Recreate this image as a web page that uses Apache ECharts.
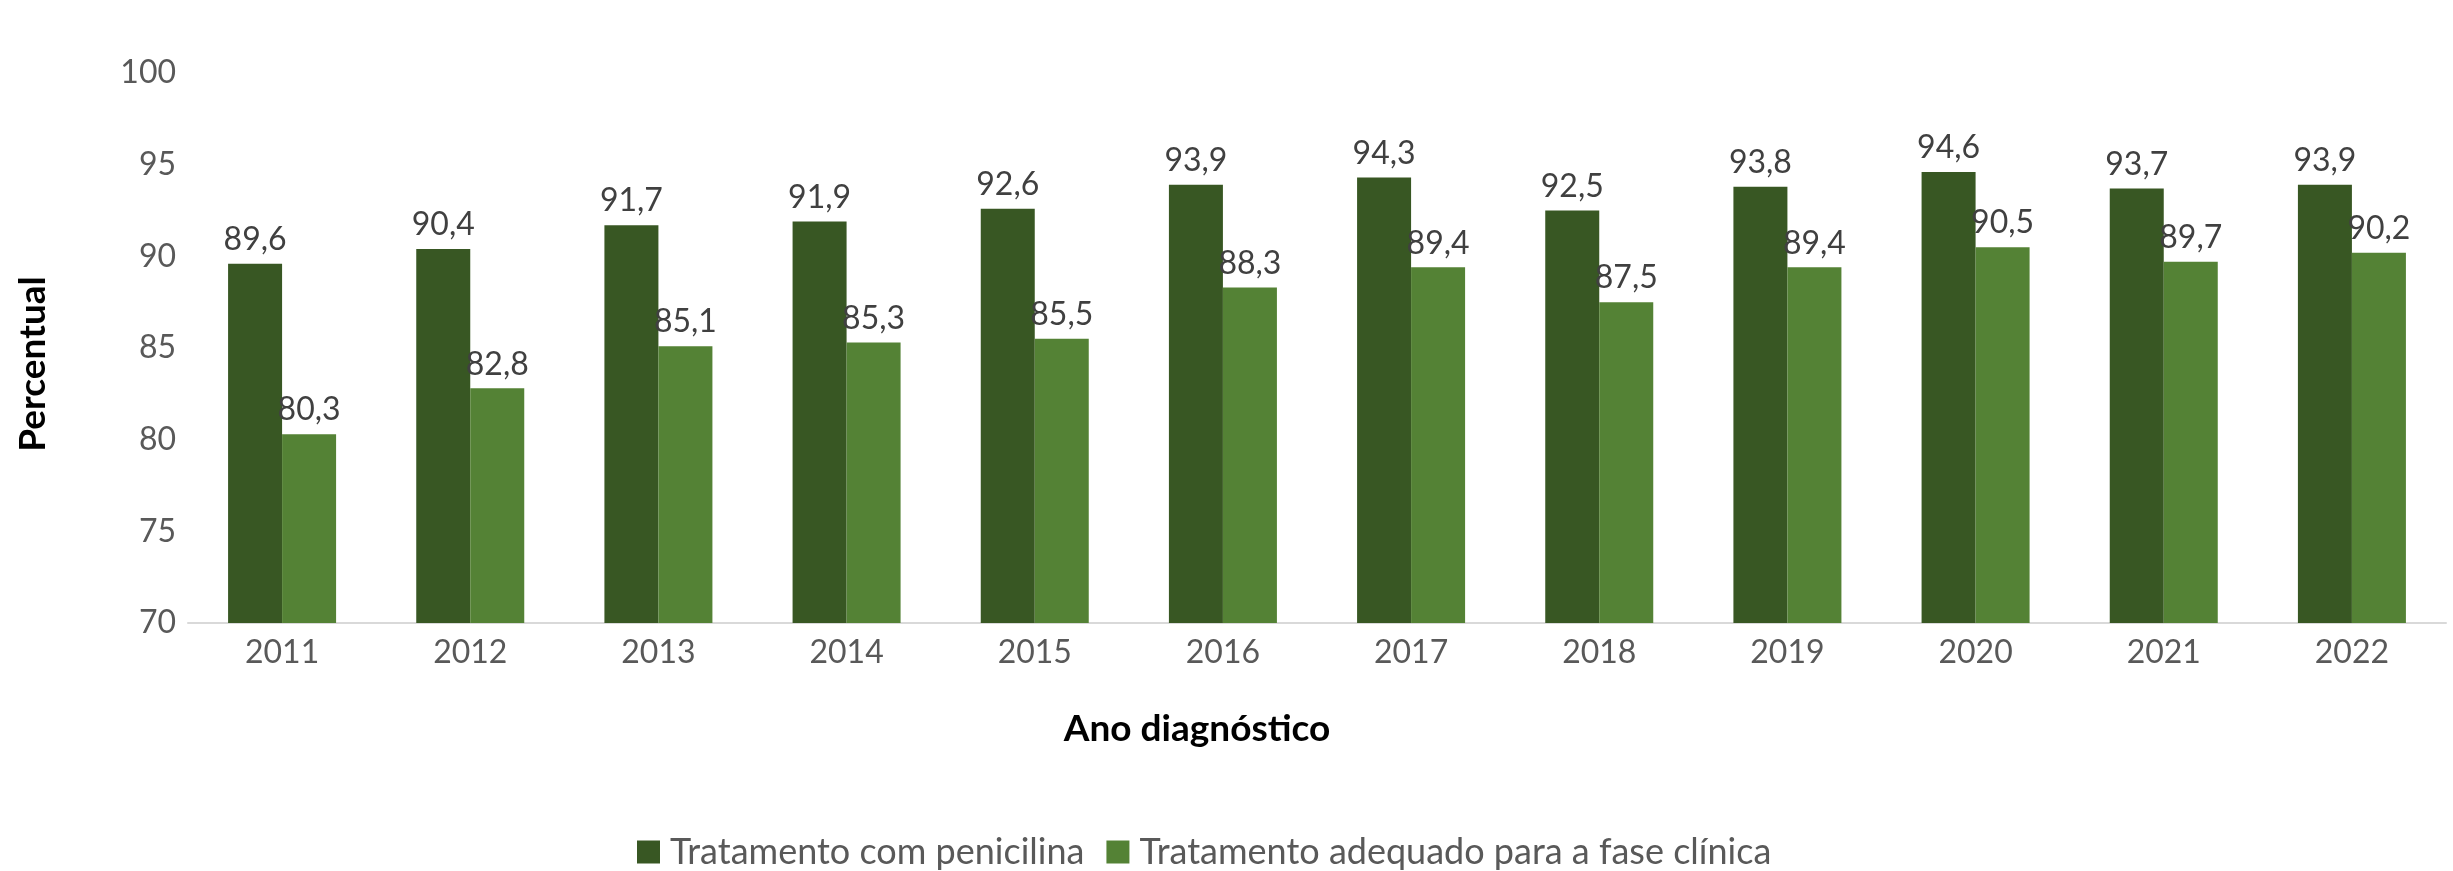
<!DOCTYPE html>
<html>
<head>
<meta charset="utf-8">
<script src="https://cdn.jsdelivr.net/npm/echarts@6/dist/echarts.min.js"></script>
<style>
html,body{margin:0;padding:0;background:#ffffff;}
#chart{width:2453px;height:871px;}
</style>
</head>
<body>
<div id="chart"></div>
<script>
const categories = ['2011','2012','2013','2014','2015','2016','2017','2018','2019','2020','2021','2022'];
const penicilina = [89.6, 90.4, 91.7, 91.9, 92.6, 93.9, 94.3, 92.5, 93.8, 94.6, 93.7, 93.9];
const adequado = [80.3, 82.8, 85.1, 85.3, 85.5, 88.3, 89.4, 87.5, 89.4, 90.5, 89.7, 90.2];
const seriesNames = ['Tratamento com penicilina', 'Tratamento adequado para a fase clínica'];
const yAxisTitle = 'Percentual';
const xAxisTitle = 'Ano diagnóstico';

const font = 'Lato';
const fmt = p => p.value.toFixed(1).replace('.', ',');
const chart = echarts.init(document.getElementById('chart'));
chart.setOption({
  backgroundColor: '#ffffff',
  animation: false,
  textStyle: { fontFamily: font },
  grid: { left: 188, right: 7, top: 73, bottom: 248 },
  legend: {
    top: 830,
    left: 632,
    padding: [2, 5],
    itemWidth: 23, itemHeight: 23, itemGap: 22,
    icon: 'rect',
    textStyle: { fontFamily: font, fontSize: 36, color: '#595959', lineHeight: 40, padding: [0, 0, 0, 5] },
    data: seriesNames
  },
  graphic: [
    { type: 'text', x: 1197, y: 729,
      style: { text: xAxisTitle, font: 'bold 37px Lato', fill: '#000000', align: 'center', verticalAlign: 'middle' } },
    { type: 'text', x: 33, y: 364, rotation: Math.PI / 2,
      style: { text: yAxisTitle, font: 'bold 37px Lato', fill: '#000000', align: 'center', verticalAlign: 'middle' } }
  ],
  xAxis: {
    type: 'category',
    data: categories,
    axisLine: { lineStyle: { color: '#d9d9d9', width: 2 } },
    axisTick: { show: false },
    axisLabel: { fontFamily: font, fontSize: 32, color: '#595959', margin: 14 }
  },
  yAxis: {
    type: 'value',
    min: 70, max: 100, interval: 5,
    splitLine: { show: false },
    axisLine: { show: false },
    axisTick: { show: false },
    axisLabel: { fontFamily: font, fontSize: 32, color: '#595959', margin: 12 }
  },
  series: [
    {
      name: seriesNames[0], type: 'bar', data: penicilina,
      barWidth: '28.7%', barGap: '0%',
      itemStyle: { color: '#385723' },
      label: { show: true, position: 'top', distance: 8, formatter: fmt,
        fontFamily: font, fontSize: 32, color: '#404040' }
    },
    {
      name: seriesNames[1], type: 'bar', data: adequado,
      barWidth: '28.7%', barGap: '0%',
      itemStyle: { color: '#548235' },
      label: { show: true, position: 'top', distance: 8, formatter: fmt,
        fontFamily: font, fontSize: 32, color: '#404040' }
    }
  ]
});
</script>
</body>
</html>
